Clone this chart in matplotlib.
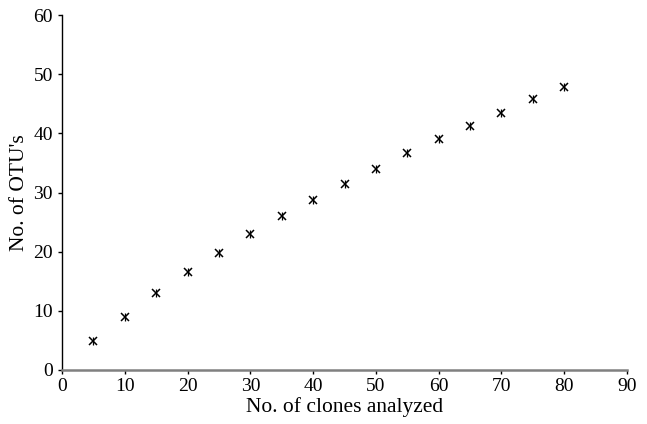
import numpy as np
import matplotlib
matplotlib.use('Agg')
import matplotlib.pyplot as plt

################################################################################
########    DATA
################################################################################

clones = [5, 10, 15, 20, 25, 30, 35, 40, 45, 50, 55, 60, 65, 70, 75, 80]
otus = [4.9, 9.0, 13.0, 16.5, 19.8, 23.0, 26.0, 28.7, 31.4, 34.0,
        36.6, 39.0, 41.3, 43.5, 45.8, 47.8]

x_ticks = [0, 10, 20, 30, 40, 50, 60, 70, 80, 90]
y_ticks = [0, 10, 20, 30, 40, 50, 60]

################################################################################
########    PLOT
################################################################################

plt.rcParams['font.family'] = ['Liberation Serif', 'DejaVu Serif']

fig = plt.figure(figsize=(6.47, 4.24), dpi=100)
ax = fig.add_axes([62 / 647, 54 / 424, 565 / 647, 355 / 424])

# asterisk-ish marker: an x with a short vertical bar through it
ax.plot(clones, otus, linestyle='none', marker='x', markersize=5.5,
        markeredgewidth=1.1, color='k')
ax.plot(clones, otus, linestyle='none', marker='|', markersize=6,
        markeredgewidth=0.9, color='k')

ax.set_xlim(0, 90)
ax.set_ylim(0, 60)
ax.set_xticks(x_ticks)
ax.set_yticks(y_ticks)

ax.spines['top'].set_visible(False)
ax.spines['right'].set_visible(False)
ax.spines['bottom'].set_color('#808080')
ax.spines['bottom'].set_linewidth(1.8)
ax.spines['left'].set_linewidth(1.0)

ax.tick_params(axis='both', direction='out', length=3, width=1, labelsize=14)
ax.tick_params(axis='x', pad=3)

ax.set_xlabel('No. of clones analyzed', fontsize=15.5, labelpad=1)
ax.set_ylabel("No. of OTU's", fontsize=15.5, labelpad=3)

fig.savefig('out.png', dpi=100)
